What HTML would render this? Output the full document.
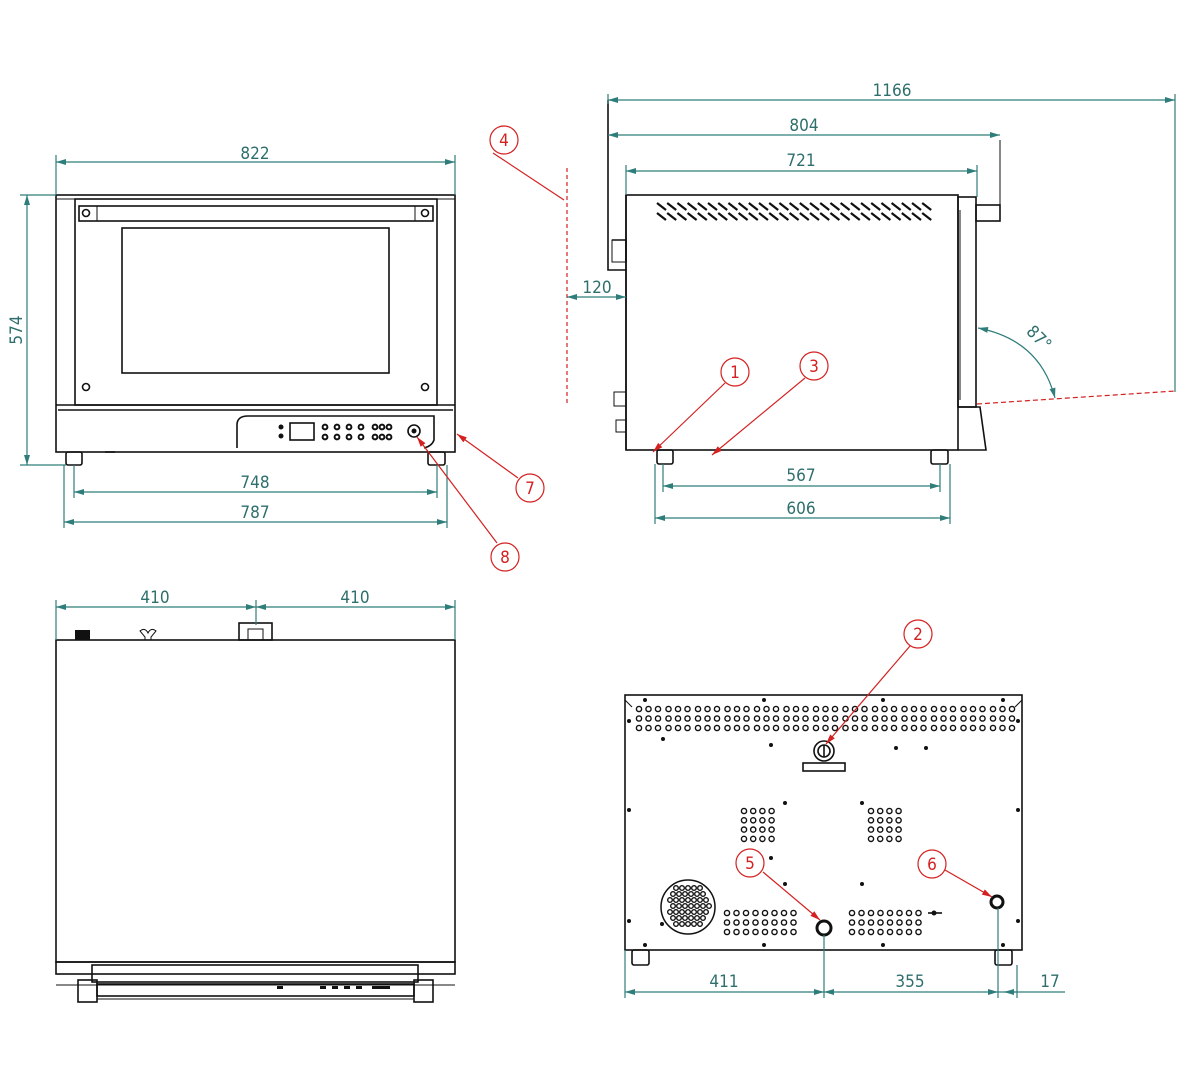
<!DOCTYPE html>
<html><head><meta charset="utf-8"><style>
html,body{margin:0;padding:0;background:#fff;width:1200px;height:1080px;overflow:hidden}
svg{display:block}
.o{fill:none;stroke:#111;stroke-width:1.6}
.t{fill:none;stroke:#111;stroke-width:1}
.d{fill:none;stroke:#2e7d7a;stroke-width:1.2}
.dt{fill:#2e6f6c;font-family:"DejaVu Sans Condensed","Liberation Sans",sans-serif;font-size:17px;text-anchor:middle}
.r{fill:none;stroke:#d42020;stroke-width:1.2}
.rt{fill:#d42020;font-family:"DejaVu Sans Condensed","Liberation Sans",sans-serif;font-size:17px;text-anchor:middle}
</style></head><body>
<svg id="s" width="1200" height="1080" viewBox="0 0 1200 1080" xmlns="http://www.w3.org/2000/svg">
<defs>
<marker id="a" viewBox="0 0 10 6" refX="10" refY="3" markerWidth="14" markerHeight="6" markerUnits="userSpaceOnUse" orient="auto-start-reverse"><path d="M0,0L10,3L0,6z" fill="#2e7d7a"/></marker>
<marker id="ra" viewBox="0 0 10 6" refX="10" refY="3" markerWidth="12" markerHeight="6" markerUnits="userSpaceOnUse" orient="auto"><path d="M0,0L10,3L0,6z" fill="#d42020"/></marker>
</defs>
<!-- FRONT VIEW -->
<rect class="o" x="56" y="195" width="399" height="257"/>
<line class="t" x1="56" y1="199" x2="455" y2="199"/>
<rect class="o" x="75" y="199" width="362" height="206"/>
<rect class="o" x="79" y="206" width="354" height="15"/>
<rect class="t" x="79" y="206" width="18" height="15"/><rect class="t" x="415" y="206" width="18" height="15"/>
<circle class="o" cx="86" cy="213" r="3.5"/><circle class="o" cx="425" cy="213" r="3.5"/>
<circle class="o" cx="86" cy="387" r="3.5"/><circle class="o" cx="425" cy="387" r="3.5"/>
<rect class="o" x="122" y="228" width="267" height="145"/>
<line class="o" x1="56" y1="405" x2="455" y2="405"/><line class="o" x1="58" y1="410" x2="453" y2="410"/>
<path class="o" d="M237,448 V425 Q237,416 248,416 H434 V440 Q432,446 424,448"/>
<g fill="#111">
<circle cx="281" cy="427" r="2.5"/><circle cx="281" cy="436" r="2.5"/>
</g>
<rect class="o" x="290" y="423" width="24" height="17"/>
<g id="kb" fill="none" stroke="#111" stroke-width="2"></g>
<circle class="o" cx="414" cy="431" r="6"/><circle fill="#111" cx="414" cy="431" r="2.5"/>
<rect class="o" x="66" y="452" width="16" height="13" rx="2"/><rect class="o" x="428" y="452" width="17" height="13" rx="2"/>
<line class="o" x1="105" y1="452" x2="115" y2="452"/>
<!-- front dims -->
<line class="d" x1="56" y1="155" x2="56" y2="195"/><line class="d" x1="455" y1="155" x2="455" y2="195"/>
<line class="d" x1="56" y1="162" x2="455" y2="162" marker-start="url(#a)" marker-end="url(#a)"/>
<text class="dt" x="255" y="159">822</text>
<line class="d" x1="20" y1="195" x2="56" y2="195"/><line class="d" x1="20" y1="465" x2="66" y2="465"/>
<line class="d" x1="27" y1="195" x2="27" y2="465" marker-start="url(#a)" marker-end="url(#a)"/>
<text class="dt" x="0" y="0" transform="translate(22,330) rotate(-90)">574</text>
<line class="d" x1="74" y1="465" x2="74" y2="498"/><line class="d" x1="437" y1="465" x2="437" y2="498"/>
<line class="d" x1="74" y1="492" x2="437" y2="492" marker-start="url(#a)" marker-end="url(#a)"/>
<text class="dt" x="255" y="488">748</text>
<line class="d" x1="64" y1="465" x2="64" y2="528"/><line class="d" x1="447" y1="465" x2="447" y2="528"/>
<line class="d" x1="64" y1="522" x2="447" y2="522" marker-start="url(#a)" marker-end="url(#a)"/>
<text class="dt" x="255" y="518">787</text>
<!-- callouts front -->
<line class="r" x1="518" y1="478" x2="457" y2="434" marker-end="url(#ra)"/>
<circle class="r" cx="530" cy="488" r="14"/><text class="rt" x="530" y="494">7</text>
<line class="r" x1="497" y1="543" x2="417" y2="437" marker-end="url(#ra)"/>
<circle class="r" cx="505" cy="557" r="14"/><text class="rt" x="505" y="563">8</text>
<!-- SIDE VIEW -->
<rect class="o" x="626" y="195" width="332" height="255"/>
<path class="o" d="M608,100 V270 H626 M612,240 H626 V262"/>
<rect class="t" x="612" y="240" width="14" height="22"/>
<g id="vent" stroke="#111" stroke-width="2.2"></g>
<rect class="o" x="958" y="197" width="18" height="210"/>
<line class="t" x1="960" y1="210" x2="960" y2="400"/>
<rect class="o" x="976" y="205" width="24" height="16"/>
<line class="t" x1="1000" y1="140" x2="1000" y2="205"/>
<path class="o" d="M958,407 H980 L986,450 H958"/>
<rect class="o" x="657" y="450" width="16" height="14" rx="2"/><rect class="o" x="931" y="450" width="17" height="14" rx="2"/>
<rect class="t" x="614" y="392" width="12" height="14"/><rect class="t" x="616" y="420" width="10" height="12"/>
<line class="o" x1="626" y1="195" x2="626" y2="450"/>
<line class="r" x1="567" y1="168" x2="567" y2="405" stroke-dasharray="4,3"/>
<line class="r" x1="977" y1="404" x2="1175" y2="391" stroke-dasharray="5,3"/>
<!-- side dims -->
<line class="d" x1="608" y1="94" x2="608" y2="104"/><line class="d" x1="1175" y1="94" x2="1175" y2="392"/>
<line class="d" x1="608" y1="100" x2="1175" y2="100" marker-start="url(#a)" marker-end="url(#a)"/>
<text class="dt" x="892" y="96">1166</text>
<line class="d" x1="608" y1="135" x2="1000" y2="135" marker-start="url(#a)" marker-end="url(#a)"/>
<text class="dt" x="804" y="131">804</text>
<line class="d" x1="626" y1="165" x2="626" y2="195"/><line class="d" x1="977" y1="165" x2="977" y2="197"/>
<line class="d" x1="626" y1="171" x2="977" y2="171" marker-start="url(#a)" marker-end="url(#a)"/>
<text class="dt" x="801" y="166">721</text>
<line class="d" x1="567" y1="297" x2="626" y2="297" marker-start="url(#a)" marker-end="url(#a)"/>
<text class="dt" x="597" y="293">120</text>
<path class="d" d="M978,328 Q1040,340 1055,398" marker-start="url(#a)" marker-end="url(#a)"/>
<text class="dt" x="0" y="0" transform="translate(1035,342) rotate(45)">87°</text>
<line class="d" x1="663" y1="464" x2="663" y2="492"/><line class="d" x1="940" y1="464" x2="940" y2="492"/>
<line class="d" x1="663" y1="486" x2="940" y2="486" marker-start="url(#a)" marker-end="url(#a)"/>
<text class="dt" x="801" y="481">567</text>
<line class="d" x1="655" y1="464" x2="655" y2="524"/><line class="d" x1="950" y1="464" x2="950" y2="524"/>
<line class="d" x1="655" y1="518" x2="950" y2="518" marker-start="url(#a)" marker-end="url(#a)"/>
<text class="dt" x="801" y="514">606</text>
<!-- side callouts -->
<line class="r" x1="493" y1="153" x2="564" y2="200"/>
<circle class="r" cx="504" cy="140" r="14"/><text class="rt" x="504" y="146">4</text>
<line class="r" x1="725" y1="383" x2="653" y2="452" marker-end="url(#ra)"/>
<circle class="r" cx="735" cy="372" r="14"/><text class="rt" x="735" y="378">1</text>
<line class="r" x1="805" y1="378" x2="712" y2="455" marker-end="url(#ra)"/>
<circle class="r" cx="814" cy="366" r="14"/><text class="rt" x="814" y="372">3</text>
<!-- TOP VIEW -->
<rect class="o" x="56" y="640" width="399" height="322"/>
<rect fill="#111" x="75" y="630" width="15" height="10"/>
<path class="t" d="M140,631 q5,-4 8,2 q3,-6 8,-2 l-5,6 v3 h-6 v-3z"/>
<rect class="o" x="239" y="623" width="33" height="17"/><rect class="t" x="248" y="629" width="15" height="11"/>
<rect class="o" x="56" y="962" width="399" height="12"/>
<rect class="o" x="92" y="965" width="326" height="17"/>
<rect class="o" x="78" y="980" width="19" height="22"/><rect class="o" x="414" y="980" width="19" height="22"/>
<rect class="o" x="97" y="984" width="317" height="12"/>
<line class="t" x1="97" y1="999" x2="414" y2="999"/>
<line class="t" x1="56" y1="985" x2="455" y2="985"/>
<g fill="#111"><rect x="277" y="986" width="6" height="3"/><rect x="320" y="986" width="6" height="3"/><rect x="332" y="986" width="6" height="3"/><rect x="344" y="986" width="6" height="3"/><rect x="356" y="986" width="6" height="3"/><rect x="372" y="986" width="18" height="3"/></g>
<line class="d" x1="56" y1="600" x2="56" y2="640"/><line class="d" x1="455" y1="600" x2="455" y2="640"/><line class="d" x1="256" y1="600" x2="256" y2="625"/>
<line class="d" x1="56" y1="607" x2="256" y2="607" marker-start="url(#a)" marker-end="url(#a)"/>
<line class="d" x1="256" y1="607" x2="455" y2="607" marker-start="url(#a)" marker-end="url(#a)"/>
<text class="dt" x="155" y="603">410</text><text class="dt" x="355" y="603">410</text>
<!-- REAR VIEW -->
<rect class="o" x="625" y="695" width="397" height="255"/>
<line class="t" x1="625" y1="700" x2="632" y2="707"/><line class="t" x1="1022" y1="700" x2="1015" y2="707"/>
<g id="holes" fill="none" stroke="#111" stroke-width="1.4"></g>
<g id="dots" fill="#111"></g>
<circle class="o" cx="824" cy="751" r="10"/><circle class="o" cx="824" cy="751" r="6"/><line class="o" x1="824" y1="745" x2="824" y2="757"/>
<rect class="o" x="803" y="763" width="42" height="8"/>
<circle fill="none" stroke="#111" stroke-width="1.5" cx="688" cy="907" r="27"/>
<circle fill="none" stroke="#111" stroke-width="3" cx="824" cy="928" r="7"/>
<circle fill="none" stroke="#111" stroke-width="3" cx="997" cy="902" r="6"/>
<line class="o" x1="928" y1="913" x2="942" y2="913"/><circle fill="#111" cx="934" cy="913" r="2.5"/>
<rect class="o" x="632" y="950" width="17" height="15" rx="2"/><rect class="o" x="995" y="950" width="17" height="15" rx="2"/>
<line class="d" x1="625" y1="950" x2="625" y2="998"/><line class="d" x1="824" y1="935" x2="824" y2="998"/>
<line class="d" x1="998" y1="908" x2="998" y2="998"/><line class="d" x1="1017" y1="965" x2="1017" y2="998"/>
<line class="d" x1="625" y1="992" x2="824" y2="992" marker-start="url(#a)" marker-end="url(#a)"/>
<line class="d" x1="824" y1="992" x2="998" y2="992" marker-start="url(#a)" marker-end="url(#a)"/>
<line class="d" x1="998" y1="992" x2="1065" y2="992"/>
<line class="d" x1="1017" y1="992" x2="1004" y2="992" marker-end="url(#a)"/>
<text class="dt" x="724" y="987">411</text><text class="dt" x="910" y="987">355</text><text class="dt" x="1050" y="987">17</text>
<line class="r" x1="910" y1="646" x2="826" y2="744" marker-end="url(#ra)"/>
<circle class="r" cx="918" cy="634" r="14"/><text class="rt" x="918" y="640">2</text>
<line class="r" x1="763" y1="872" x2="820" y2="920" marker-end="url(#ra)"/>
<circle class="r" cx="750" cy="863" r="14"/><text class="rt" x="750" y="869">5</text>
<line class="r" x1="945" y1="870" x2="992" y2="897" marker-end="url(#ra)"/>
<circle class="r" cx="932" cy="864" r="14"/><text class="rt" x="932" y="870">6</text>
</svg>
<script>
var NS="http://www.w3.org/2000/svg";
function el(p,t,a){var e=document.createElementNS(NS,t);for(var k in a)e.setAttribute(k,a[k]);document.getElementById(p).appendChild(e);}
// keypad
for(var i=0;i<4;i++)for(var j=0;j<2;j++)el("kb","circle",{cx:325+i*12,cy:427+j*10,r:2.4});
for(var i=0;i<3;i++)for(var j=0;j<2;j++)el("kb","circle",{cx:375+i*7,cy:427+j*10,r:2.4});
// vent slots
for(var r=0;r<2;r++)for(var i=0;i<27;i++){var x=657+i*10.2,y=203+r*10;el("vent","line",{x1:x,y1:y,x2:x+9,y2:y+7});}
// rear holes top
for(var g=0;g<13;g++)for(var i=0;i<3;i++)for(var j=0;j<3;j++)el("holes","circle",{cx:639+g*29.5+i*9.5,cy:709+j*9.5,r:2.6});
function grid(x,y,nx,ny,dx,dy){for(var i=0;i<nx;i++)for(var j=0;j<ny;j++)el("holes","circle",{cx:x+i*dx,cy:y+j*dy,r:2.6});}
grid(744,811,4,4,9.2,9.3);grid(871,811,4,4,9.2,9.3);
grid(727,913,8,3,9.5,9.5);grid(852,913,8,3,9.5,9.5);
for(var i=0;i<7;i++)for(var j=0;j<7;j++){var x=670+i*6+(j%2)*3,y=888+j*6;if((x-688)*(x-688)+(y-907)*(y-907)<560)el("holes","circle",{cx:x,cy:y,r:2.3});}
var ds=[[645,700],[764,700],[883,700],[1003,700],[629,721],[1018,721],[663,739],[771,745],[896,748],[926,748],[785,803],[862,803],[629,810],[1018,810],[771,858],[785,884],[862,884],[629,921],[1018,921],[662,924],[645,945],[764,945],[883,945],[1003,945]];
ds.forEach(function(d){el("dots","circle",{cx:d[0],cy:d[1],r:2});});
</script>
</body></html>
